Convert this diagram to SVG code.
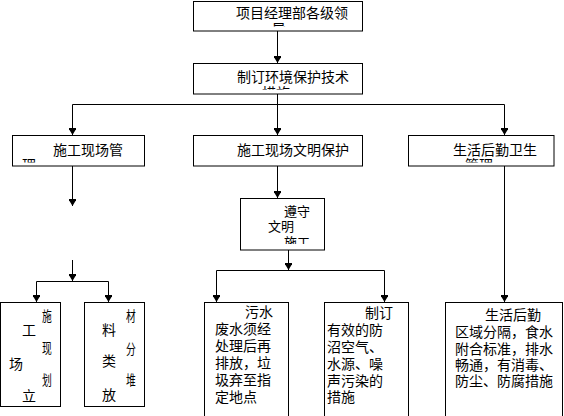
<svg xmlns="http://www.w3.org/2000/svg" width="564" height="416" viewBox="0 0 564 416">
<style>
.box{fill:#fff;stroke:#000;stroke-width:1}
.ln{fill:none;stroke:#000;stroke-width:1}
.t{font-family:"Noto Sans CJK SC","Noto Sans",sans-serif;font-size:14px;fill:#000}
.s{font-size:13px}
</style>
<defs>
<marker id="arr" markerUnits="userSpaceOnUse" markerWidth="10" markerHeight="10" refX="0" refY="0" orient="auto" overflow="visible">
<path d="M0,0 L-5,-3 L-5,-3.5 L-7,-3.5 L-7,3.5 L-5,3.5 L-5,3 Z" fill="#000"/>
</marker>
<clipPath id="c1"><rect x="193" y="1" width="170" height="25.5"/></clipPath>
<clipPath id="c2"><rect x="193" y="63" width="170" height="26.5"/></clipPath>
<clipPath id="c3"><rect x="12" y="135" width="133" height="27.5"/></clipPath>
<clipPath id="c4"><rect x="408" y="135" width="147" height="27.5"/></clipPath>
<clipPath id="c5"><rect x="240" y="198" width="85" height="46"/></clipPath>
</defs>

<g id="connectors">
<path class="ln" d="M277.5,31 V63" marker-end="url(#arr)"/>
<path class="ln" d="M277.5,94 V104.5 M72.5,104.5 H504.5"/>
<path class="ln" d="M72.5,104.5 V135" marker-end="url(#arr)"/>
<path class="ln" d="M277.5,104.5 V135" marker-end="url(#arr)"/>
<path class="ln" d="M504.5,104.5 V135" marker-end="url(#arr)"/>
<path class="ln" d="M72.5,166 V206" marker-end="url(#arr)"/>
<path class="ln" d="M72.5,260 V281" marker-end="url(#arr)"/>
<path class="ln" d="M36.5,281.5 H108.5"/>
<path class="ln" d="M36.5,281.5 V302" marker-end="url(#arr)"/>
<path class="ln" d="M108.5,281.5 V302" marker-end="url(#arr)"/>
<path class="ln" d="M277.5,166 V198" marker-end="url(#arr)"/>
<path class="ln" d="M288.5,250 V270" marker-end="url(#arr)"/>
<path class="ln" d="M216.5,270.5 H384.5"/>
<path class="ln" d="M216.5,270.5 V302" marker-end="url(#arr)"/>
<path class="ln" d="M384.5,270.5 V302" marker-end="url(#arr)"/>
<path class="ln" d="M504.5,166 V302" marker-end="url(#arr)"/>
</g>

<g id="n-leader">
<rect class="box" x="193.5" y="1.5" width="169" height="29.5"/>
<text class="t" clip-path="url(#c1)"><tspan x="236" y="18">项目经理部各级领</tspan><tspan x="272" y="34">导</tspan></text>
</g>

<g id="n-plan">
<rect class="box" x="193.5" y="63.5" width="169" height="30.5"/>
<text class="t" clip-path="url(#c2)"><tspan x="237" y="82">制订环境保护技术</tspan><tspan x="262" y="98">措施</tspan></text>
</g>

<g id="n-site">
<rect class="box" x="12.5" y="135.5" width="132" height="30.5"/>
<text class="t" clip-path="url(#c3)"><tspan x="53" y="155">施工现场管</tspan><tspan x="22" y="170">理</tspan></text>
</g>

<g id="n-civil">
<rect class="box" x="193.5" y="135.5" width="169" height="30.5"/>
<text class="t" x="237" y="155">施工现场文明保护</text>
</g>

<g id="n-life">
<rect class="box" x="408.5" y="135.5" width="145.5" height="30.5"/>
<text class="t" clip-path="url(#c4)"><tspan x="453" y="155">生活后勤卫生</tspan><tspan x="465" y="170">管理</tspan></text>
</g>

<g id="n-obey">
<rect class="box" x="240.5" y="198.5" width="84" height="51.5"/>
<text class="t s" clip-path="url(#c5)"><tspan x="284" y="216">遵守</tspan><tspan x="268" y="231">文明</tspan><tspan x="284" y="247">施工</tspan></text>
</g>

<g id="n-zone">
<rect class="box" x="0.5" y="302.5" width="60" height="104"/>
<text class="t" transform="translate(42,321) scale(0.7,1)">施</text>
<text class="t" x="22" y="335">工</text>
<text class="t" transform="translate(42,353) scale(0.7,1)">现</text>
<text class="t" x="9" y="369">场</text>
<text class="t" transform="translate(42,385) scale(0.7,1)">划</text>
<text class="t" x="22" y="401">立</text>
</g>

<g id="n-material">
<rect class="box" x="84.5" y="302.5" width="60" height="104"/>
<text class="t" transform="translate(126,321) scale(0.7,1)">材</text>
<text class="t" x="102" y="335">料</text>
<text class="t" transform="translate(126,354) scale(0.7,1)">分</text>
<text class="t" x="102" y="366">类</text>
<text class="t" transform="translate(126,385) scale(0.7,1)">堆</text>
<text class="t" x="102" y="400">放</text>
</g>

<g id="n-water">
<rect class="box" x="204.5" y="302.5" width="84" height="130"/>
<text class="t"><tspan x="245" y="317">污水</tspan><tspan x="215" y="334">废水须经</tspan><tspan x="215" y="351">处理后再</tspan><tspan x="215" y="368">排放，垃</tspan><tspan x="215" y="385">圾弃至指</tspan><tspan x="215" y="402">定地点</tspan></text>
</g>

<g id="n-pollution">
<rect class="box" x="324.5" y="302.5" width="84" height="130"/>
<text class="t"><tspan x="365" y="318">制订</tspan><tspan x="327" y="335">有效的防</tspan><tspan x="327" y="352">沼空气、</tspan><tspan x="327" y="369">水源、噪</tspan><tspan x="327" y="386">声污染的</tspan><tspan x="327" y="402">措施</tspan></text>
</g>

<g id="n-hygiene">
<rect class="box" x="445.5" y="302.5" width="117" height="130"/>
<text class="t"><tspan x="485" y="320">生活后勤</tspan><tspan x="455" y="337">区域分隔，食水</tspan><tspan x="455" y="354">附合标准，排水</tspan><tspan x="455" y="370">畅通，有消毒、</tspan><tspan x="455" y="386">防尘、防腐措施</tspan></text>
</g>
</svg>
